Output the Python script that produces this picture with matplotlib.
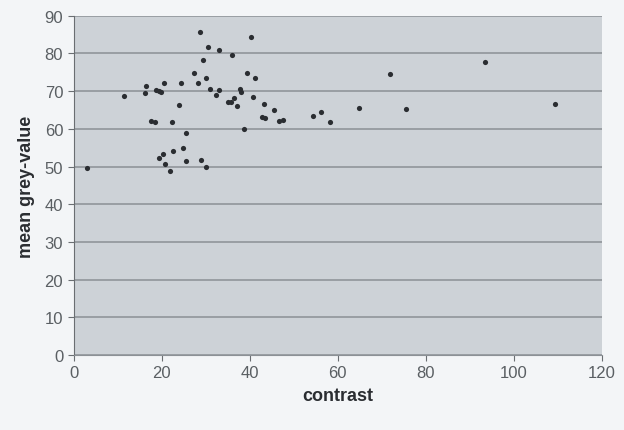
import matplotlib
matplotlib.use("Agg")
import matplotlib.pyplot as plt

contrast = [3.0, 11.4, 16.3, 16.5, 17.5, 18.6, 18.8, 19.5, 19.9, 20.5,
            19.5, 20.4, 20.7, 22.0, 22.4, 22.6, 24.0, 24.5, 24.8, 25.5,
            25.6, 27.3, 28.2, 28.8, 29.3, 29.0, 30.0, 30.0, 30.5, 31.0,
            32.4, 33.0, 33.1, 35.1, 35.8, 36.0, 36.5, 37.1, 37.9, 38.1,
            38.7, 39.3, 40.4, 40.7, 41.2, 43.2, 42.8, 43.4, 45.6, 46.7,
            47.7, 54.3, 56.3, 58.3, 64.9, 71.9, 75.5, 93.5, 109.5]
grey_value = [49.6, 68.7, 69.4, 71.4, 62.1, 61.7, 70.3, 70.1, 69.9, 72.3,
              52.3, 53.3, 50.6, 48.8, 61.8, 54.2, 66.3, 72.1, 54.9, 58.8,
              51.5, 74.9, 72.1, 85.7, 78.3, 51.8, 50.0, 73.6, 81.7, 70.5,
              69.0, 81.0, 70.3, 67.2, 67.0, 79.6, 68.3, 66.0, 70.7, 69.8,
              60.0, 74.7, 84.3, 68.4, 73.6, 66.5, 63.1, 62.9, 65.1, 62.0,
              62.3, 63.3, 64.5, 61.9, 65.6, 74.5, 65.3, 77.8, 66.6]

x_ticks = [0, 20, 40, 60, 80, 100, 120]
y_ticks = [0, 10, 20, 30, 40, 50, 60, 70, 80, 90]

plt.rcParams['font.family'] = ['Liberation Sans', 'DejaVu Sans']

fig = plt.figure(figsize=(6.24, 4.31), dpi=100, facecolor='#f3f5f7')
ax = fig.add_axes([0.118, 0.174, 0.846, 0.787])
ax.set_facecolor('#cdd2d7')

ax.set_xlim(0, 120)
ax.set_ylim(0, 90)
ax.set_xticks(x_ticks)
ax.set_yticks(y_ticks)
ax.yaxis.grid(True, color='#90959a', linewidth=1.2)
ax.set_axisbelow(True)

ax.scatter(contrast, grey_value, s=14, color='#2a2d31', zorder=3, linewidths=0)

for side in ['top', 'right']:
    ax.spines[side].set_visible(False)
ax.spines['left'].set_color('#6a6e72')
ax.spines['bottom'].set_color('#8c9196')
ax.tick_params(axis='both', colors='#6a6e72', labelcolor='#5a5f63', labelsize=12, length=4)

ax.set_xlabel('contrast', fontsize=13, fontweight='bold', color='#2a2d31', labelpad=5)
ax.set_ylabel('mean grey-value', fontsize=13, fontweight='bold', color='#2a2d31', labelpad=7)

fig.savefig('out.png', dpi=100, facecolor=fig.get_facecolor())
